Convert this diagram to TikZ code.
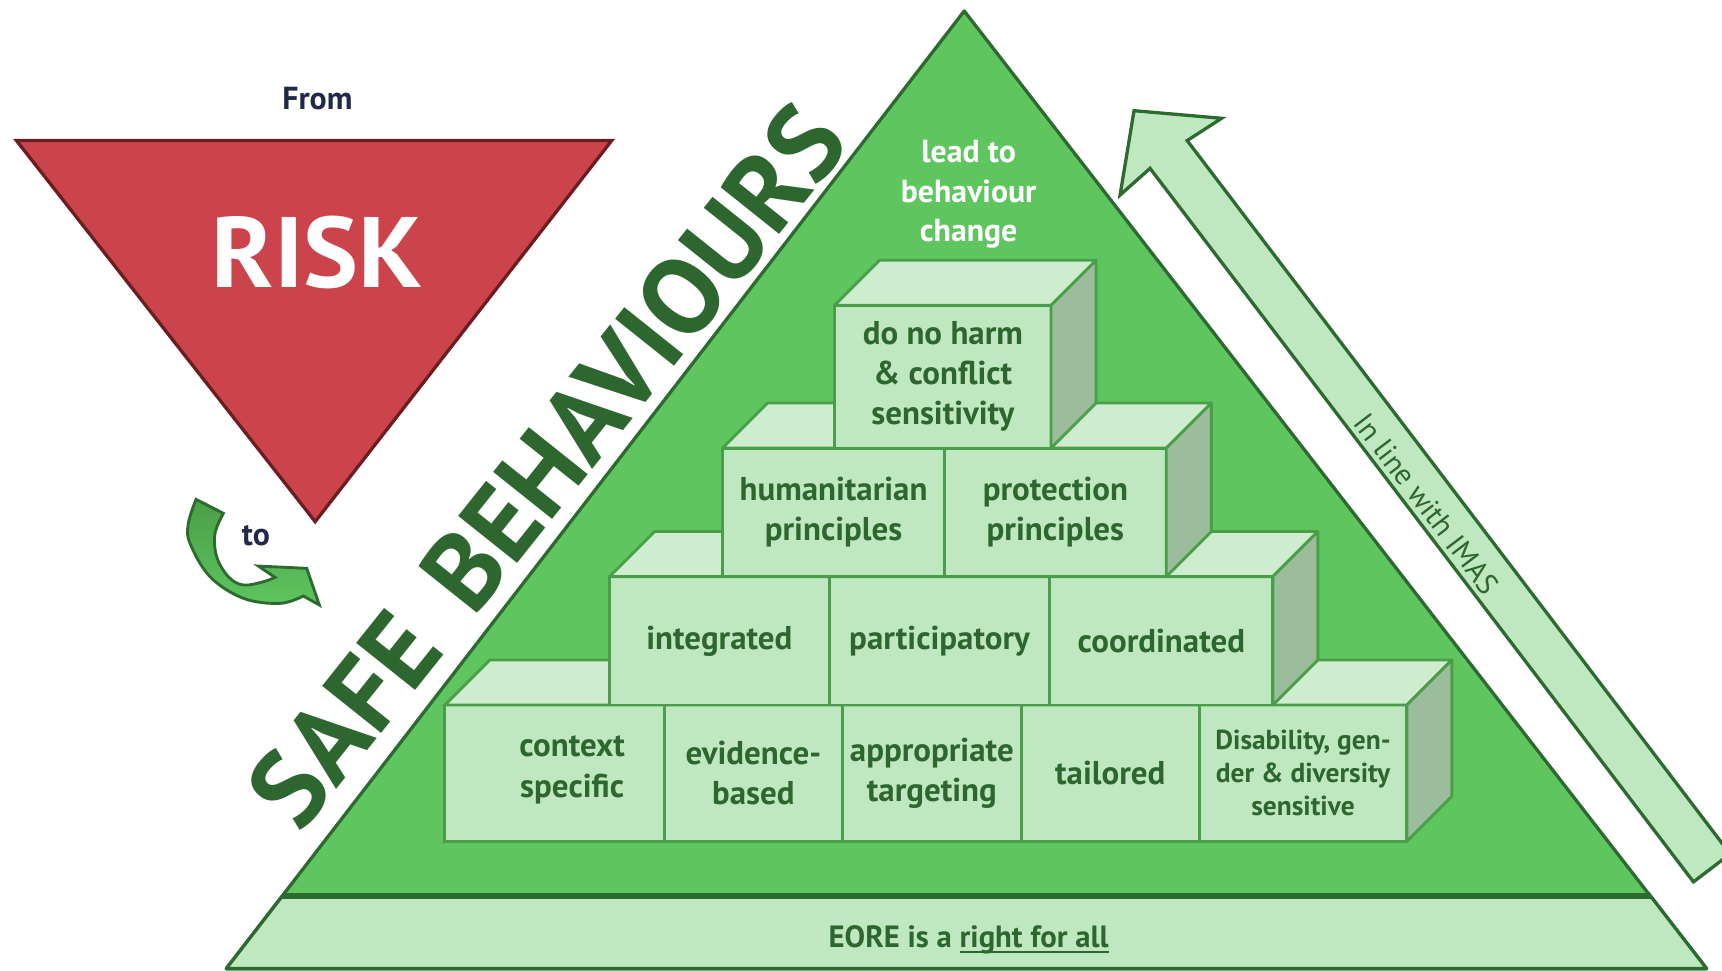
\documentclass[tikz,border=0pt]{standalone}
\usepackage{fontspec}
\setmainfont{PT Sans}
\usetikzlibrary{calc}

\definecolor{riskred}{HTML}{CB444B}
\definecolor{riskedge}{HTML}{6B1E22}
\definecolor{pyrgreen}{HTML}{5EC55F}
\definecolor{darkgreen}{HTML}{2D6A2F}
\definecolor{textgreen}{HTML}{2E6630}
\definecolor{facegreen}{HTML}{C0E8C0}
\definecolor{topgreen}{HTML}{CEEDCE}
\definecolor{sidegreen}{HTML}{9BBD9B}
\definecolor{blockedge}{HTML}{4A9E4A}
\definecolor{arrowdark}{HTML}{4A9E48}
\definecolor{navy}{HTML}{1F2A48}

\newcommand\blockfont{\fontsize{30}{36.5}\selectfont\bfseries}
\newcommand\smallblockfont{\fontsize{25}{30}\selectfont\bfseries}
\newcommand\ulinetext[1]{\setbox0\hbox{#1}\rlap{\rule[-5pt]{\wd0}{1.8pt}}\box0}

% top and side faces of one row of blocks, from its first to its last front face
\newcommand\rowfaces[2]{%
  \draw[topface] (#1.north west) -- ++(41,-41) -- ($(#2.north east)+(41,-41)$) -- (#2.north east) -- cycle;
  \draw[sideface] (#2.north east) -- ++(41,-41) -- ($(#2.south east)+(41,-41)$) -- (#2.south east) -- cycle;}

\begin{document}
\begin{tikzpicture}[x=1pt,y=-1pt,
  face/.style={draw=blockedge, line width=2.6pt, fill=facegreen, inner sep=0pt, outer sep=0pt,
    align=center, text=textgreen, font=\blockfont},
  blocklabel/.style={align=center, text=textgreen, font=\blockfont, inner sep=0pt},
  topface/.style={draw=blockedge, line width=2.6pt, fill=topgreen, line join=round},
  sideface/.style={draw=blockedge, line width=2.6pt, fill=sidegreen, line join=round},
  darkline/.style={draw=darkgreen, line width=3pt, line join=round},
  navytext/.style={text=navy, font=\fontsize{29}{34}\selectfont\bfseries, inner sep=0pt}]

\useasboundingbox (0,0) rectangle (1568,884);

% the red "risk" triangle
\draw[draw=riskedge, line width=3pt, fill=riskred, line join=miter]
  (15,128) -- (557,128) -- (287,475) -- cycle;
\node[text=white, inner sep=0pt] (risk) at (289,229.5) {\resizebox{192pt}{65pt}{\bfseries RISK}};
\node[navytext] (from) at (289,90) {From};
\node[navytext] (to) at (233,488) {to};

% curved green arrow
\draw[draw=darkgreen, line width=2.6pt, line join=miter, top color=arrowdark, bottom color=pyrgreen]
  (178.5,454.7) -- (203.4,467.4)
  -- plot[smooth, tension=0.6] coordinates {(203.4,467.4) (195.8,485.6) (197.3,506.9) (207.9,525.1) (221.6,532.7) (239.8,529.7) (250.4,525.7)}
  -- (235.2,515.4) -- (279.3,517.5) -- (290.8,550.9) -- (276.2,542.7)
  -- plot[smooth, tension=0.6] coordinates {(276.2,542.7) (255,549.4) (221.6,544.8) (191.2,525.1) (173,494.7) (171.5,476.5) (178.5,454.7)}
  -- cycle;

% the pyramid and its base strip
\draw[darkline, fill=pyrgreen] (878,10) -- (206,882) -- (1554,882) -- cycle;
\draw[darkline, fill=facegreen] (257,816) -- (1503,816) -- (1554,882) -- (206,882) -- cycle;
\draw[draw=darkgreen, line width=5pt] (257,816) -- (1503,816);
\node[text=textgreen, font=\fontsize{28}{34}\selectfont\bfseries, inner sep=0pt] (eore) at (882,856)
  {EORE is a \ulinetext{right for all}};

\node[text=white, align=center, font=\fontsize{29}{36}\selectfont\bfseries, inner sep=0pt] (lead) at (882,177)
  {lead to\\behaviour\\change};

% the slogan along the pyramid side
\node[text=textgreen, rotate=51.4, inner sep=0pt] (safe) at (498,424)
  {\resizebox{805pt}{70pt}{\bfseries SAFE\hspace{0.4em}BEHAVIOURS}};

% IMAS arrow
\draw[darkline, fill=facegreen, line join=miter]
  (1542,803) -- (1047.2,153.3) -- (1019.9,177.6) -- (1032.6,100.8) -- (1112.4,107.7)
  -- (1081,128) -- (1575.4,777.5) -- cycle;
\node[text=textgreen, rotate=-52.7, font=\fontsize{27}{30}\selectfont, inner sep=0pt] (imas) at (1299,459)
  {In line with IMAS};

% bottom row of blocks
\node[face, minimum width=200pt, minimum height=124pt] (ctx) at (505,704) {};
\node[face, minimum width=162pt, minimum height=124pt] (evb) at (686,704) {evidence-\\based};
\node[face, minimum width=163pt, minimum height=124pt] (apt) at (848.5,704) {appropriate\\targeting};
\node[face, minimum width=162pt, minimum height=124pt] (tlr) at (1011,704) {tailored};
\node[face, minimum width=189pt, minimum height=124pt, font=\smallblockfont] (dgd) at (1186.5,704)
  {Disability, gen-\\der \& diversity\\sensitive};
\node[blocklabel] (ctxlabel) at (521,701) {context\\specific};
\rowfaces{ctx}{dgd}

% third row
\node[face, minimum width=200pt, minimum height=117pt] (intg) at (655,583.5) {integrated};
\node[face, minimum width=201pt, minimum height=117pt] (part) at (855.5,583.5) {participatory};
\node[face, minimum width=203pt, minimum height=117pt] (coord) at (1057.5,583.5) {coordinated};
\rowfaces{intg}{coord}

% second row
\node[face, minimum width=202pt, minimum height=117pt] (hum) at (759,466.5) {humanitarian\\principles};
\node[face, minimum width=202pt, minimum height=117pt] (prot) at (961,466.5) {protection\\principles};
\rowfaces{hum}{prot}

% top block
\node[face, minimum width=197pt, minimum height=130pt] (dnh) at (858.5,343) {do no harm\\\& conflict\\sensitivity};
\rowfaces{dnh}{dnh}

\end{tikzpicture}
\end{document}
